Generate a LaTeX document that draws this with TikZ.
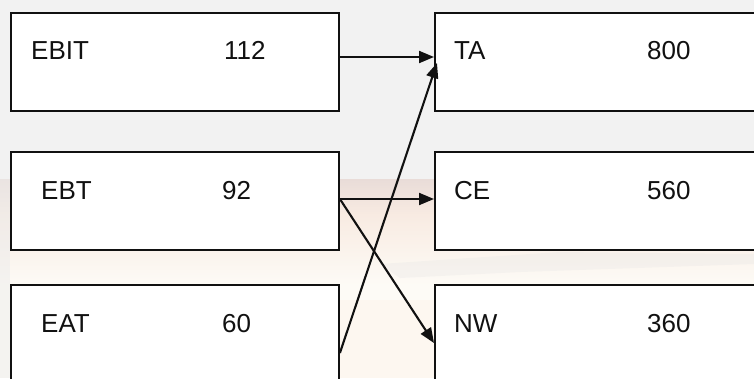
\documentclass[tikz,border=0pt]{standalone}
\usepackage{fontspec}
\setmainfont{Liberation Sans}
\usetikzlibrary{arrows.meta,calc}
\definecolor{paper}{HTML}{F2F2F2}
\definecolor{blush}{HTML}{E9DCD8}
\definecolor{peach}{HTML}{F8EBE2}
\definecolor{cream}{HTML}{FDFBF6}
\definecolor{ink}{HTML}{111111}
\tikzset{
  valbox/.style={draw=ink, line width=1.9pt, fill=white, rectangle, inner sep=0pt, anchor=north west},
  lbl/.style={anchor=base west, inner sep=0pt, font=\fontsize{26}{30}\selectfont, text=ink},
  link/.style={draw=ink, line width=2.1pt, -{Triangle[length=15pt,width=12pt]}}
}
\begin{document}
\begin{tikzpicture}[x=1pt,y=-1pt]
\useasboundingbox (0,0) rectangle (754,378);
\clip (0,0) rectangle (754,378);
% light grey page with a faded photograph in the lower half
\fill[paper] (0,0) rectangle (754,378);
\shade[top color=blush, bottom color=peach] (0,179) rectangle (754,215);
\shade[top color=peach, bottom color=cream] (0,215) rectangle (754,285);
\fill[cream] (0,285) rectangle (754,378);
\fill[gray!20, opacity=0.3] (380,264) -- (560,252) -- (754,254) -- (754,264) -- (520,272) -- (400,278) -- cycle;
\fill[gray!15, opacity=0.5] (0,179) rectangle (10,378);
\fill[orange!10, opacity=0.35] (340,300) rectangle (434,378);

% value boxes
\node[valbox, minimum width=328pt, minimum height=98pt] (ebit) at (10,12) {};
\node[valbox, minimum width=328pt, minimum height=98pt] (ebt)  at (10,151) {};
\node[valbox, minimum width=328pt, minimum height=140pt] (eat) at (10,284) {};
\node[valbox, minimum width=340pt, minimum height=98pt] (ta) at (434,12) {};
\node[valbox, minimum width=340pt, minimum height=98pt] (ce) at (434,151) {};
\node[valbox, minimum width=340pt, minimum height=140pt] (nw) at (434,284) {};

% labels and figures
\node[lbl] (tebit) at (31,59) {EBIT};
\node[lbl] (vebit) at (224,59) {112};
\node[lbl] (tebt) at (41,199) {EBT};
\node[lbl] (vebt) at (222,199) {92};
\node[lbl] (teat) at (41,332) {EAT};
\node[lbl] (veat) at (222,332) {60};
\node[lbl] (tta) at (454,59) {TA};
\node[lbl] (vta) at (647,59) {800};
\node[lbl] (tce) at (454,199) {CE};
\node[lbl] (vce) at (647,199) {560};
\node[lbl] (tnw) at (454,332) {NW};
\node[lbl] (vnw) at (647,332) {360};

% connectors
\coordinate (a1) at ($(ebit.north east)+(0,45)$);
\coordinate (b1) at ($(ta.north west)+(0,45)$);
\coordinate (a2) at ($(ebt.north east)+(0,48)$);
\coordinate (b2) at ($(ce.north west)+(0,48)$);
\coordinate (b3) at ($(nw.north west)+(0,59)$);
\coordinate (a4) at ($(eat.north east)+(0,69)$);
\coordinate (b4) at ($(ta.north west)+(3,51)$);
\draw[link] (a1) -- (b1);
\draw[link] (a2) -- (b2);
\draw[link] (a2) -- (b3);
\draw[link] (a4) -- (b4);
\end{tikzpicture}
\end{document}
